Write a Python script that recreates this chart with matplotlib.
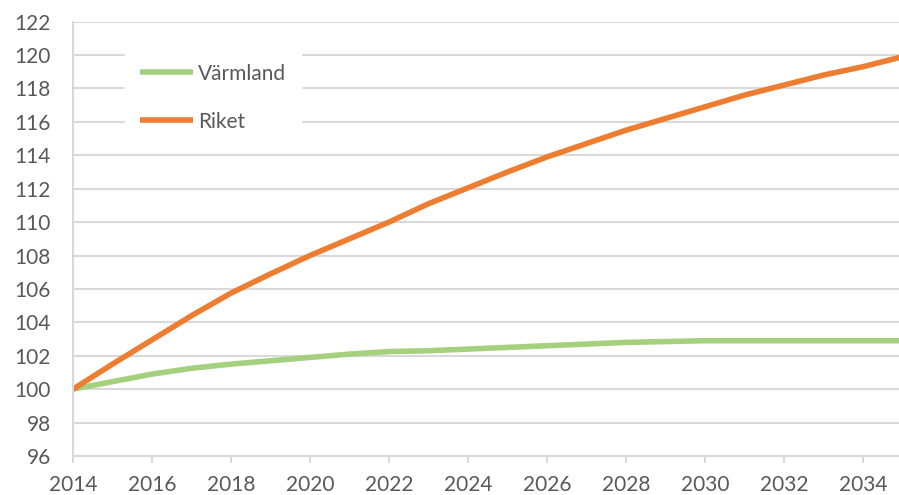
import matplotlib.pyplot as plt
from matplotlib.ticker import MultipleLocator

# Indexerad befolkningsutveckling, 2014 = 100
years = list(range(2014, 2036))
varmland = [100.0, 100.45, 100.9, 101.25, 101.5, 101.7, 101.9, 102.1, 102.25, 102.3,
            102.4, 102.5, 102.6, 102.7, 102.8, 102.85, 102.9, 102.9, 102.9, 102.9,
            102.9, 102.9]
riket = [100.0, 101.5, 102.95, 104.4, 105.75, 106.9, 108.0, 109.0, 110.0, 111.1,
         112.05, 113.0, 113.9, 114.7, 115.5, 116.2, 116.9, 117.6, 118.2, 118.8,
         119.3, 119.9]

plt.rcParams['font.family'] = ['Lato', 'DejaVu Sans']
text_color = '#595959'
grid_color = '#D9D9D9'

fig = plt.figure(figsize=(8.99, 4.95), dpi=100)
ax = fig.add_axes([73 / 899, 1 - 456 / 495, (899 - 73) / 899, (456 - 21.6) / 495])

ax.plot(years, varmland, color='#A5D07E', lw=4, label='Värmland', solid_capstyle='butt')
ax.plot(years, riket, color='#ED7D31', lw=4, label='Riket', solid_capstyle='butt')

ax.set_xlim(2014, 2014 + (899 - 73) / 39.5)
ax.set_ylim(96, 122)
ax.xaxis.set_major_locator(MultipleLocator(2))
ax.yaxis.set_major_locator(MultipleLocator(2))

ax.grid(axis='y', color=grid_color, lw=1.5)
ax.set_axisbelow(True)
for side in ['top', 'right']:
    ax.spines[side].set_visible(False)
for side in ['left', 'bottom']:
    ax.spines[side].set_color(grid_color)
    ax.spines[side].set_linewidth(1.5)

ax.tick_params(axis='y', length=0, pad=16, labelsize=15, labelcolor=text_color)
ax.tick_params(axis='x', length=5, width=1.5, color=grid_color, pad=9,
               labelsize=15, labelcolor=text_color)

leg = ax.legend(loc='upper left', bbox_to_anchor=(125 / 899, 1 - 49 / 495),
                bbox_transform=fig.transFigure, borderaxespad=0, frameon=True,
                fontsize=15, handlelength=2.55, handletextpad=0.25, labelspacing=1.35,
                borderpad=0.7, fancybox=False)
leg.get_frame().set_facecolor('white')
leg.get_frame().set_edgecolor('white')
leg.get_frame().set_alpha(1)
for t in leg.get_texts():
    t.set_color(text_color)

fig.savefig('out.png', dpi=100)
